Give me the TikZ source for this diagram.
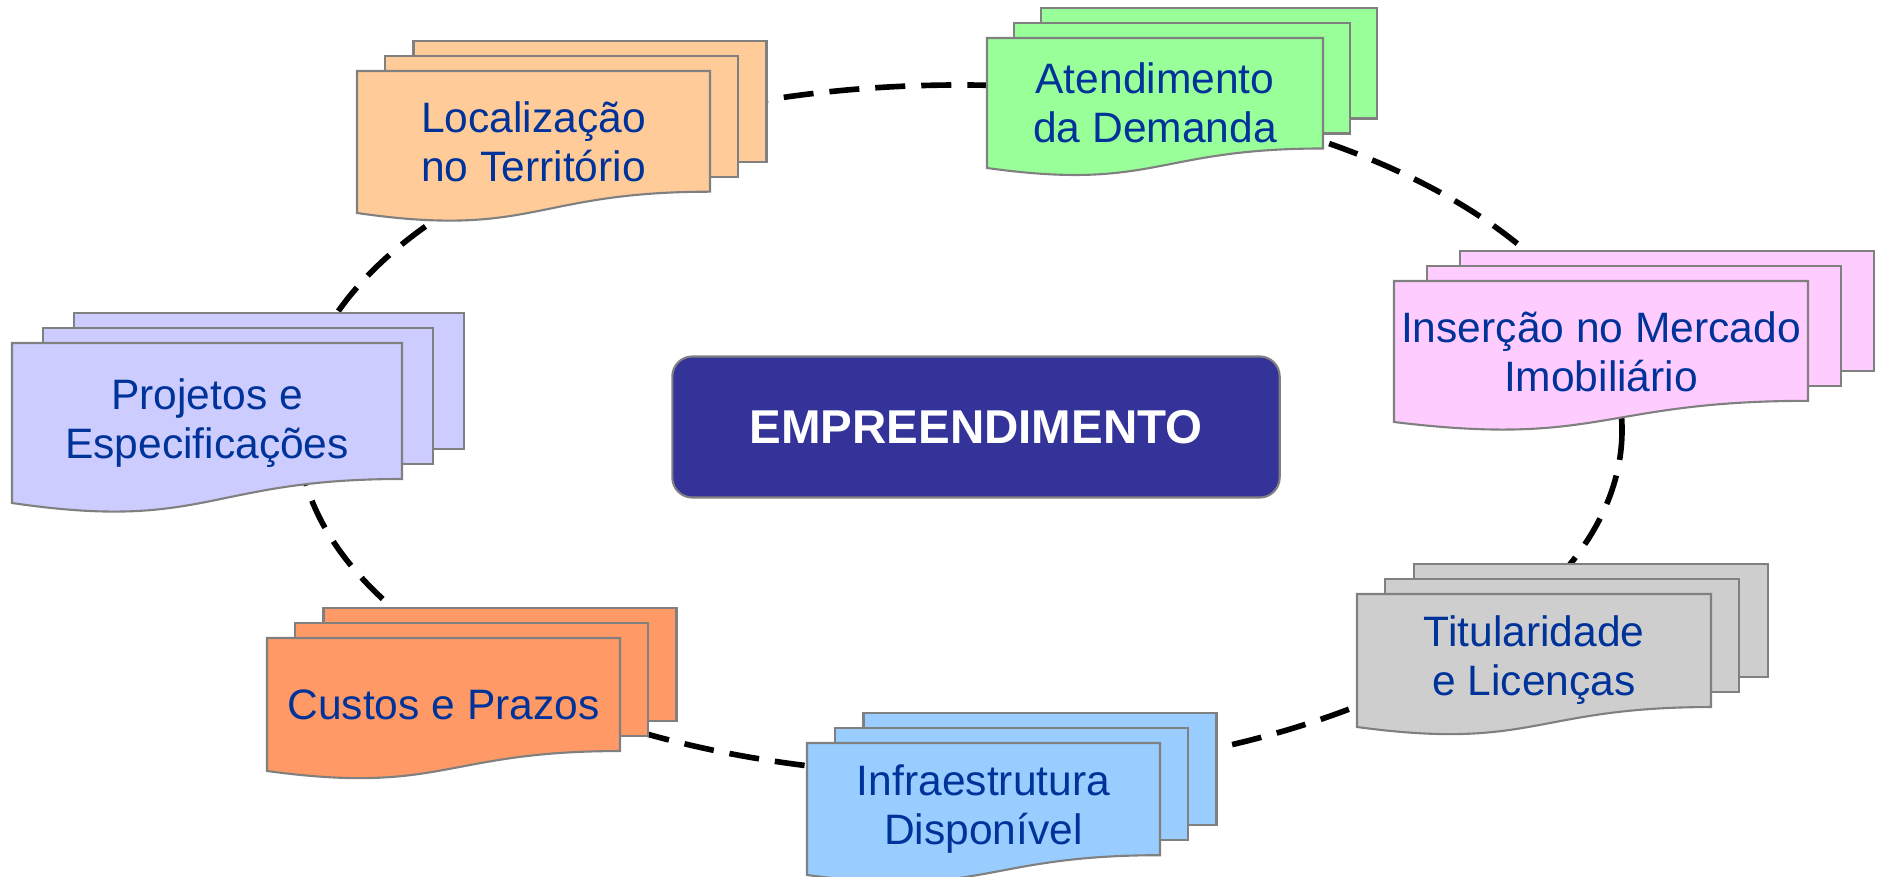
\documentclass[tikz,border=0pt]{standalone}
\usepackage{fontspec}
\setmainfont{Liberation Sans}

\definecolor{docblue}{RGB}{0,51,153}
\definecolor{boxblue}{RGB}{51,51,153}
\definecolor{c_loc}{RGB}{255,204,153}
\definecolor{c_atend}{RGB}{153,255,153}
\definecolor{c_ins}{RGB}{255,204,255}
\definecolor{c_tit}{RGB}{206,206,206}
\definecolor{c_infra}{RGB}{153,204,255}
\definecolor{c_custos}{RGB}{255,153,102}
\definecolor{c_proj}{RGB}{204,204,255}

% stack of three sheets: name, left, top, width, depth, colour, text
\newcommand{\docstack}[7]{%
  \pgfmathsetmacro\ox{0.08*#4}
  \pgfmathsetmacro\rh{0.85*#5}
  \draw[sheet, fill=#6] (#2+2*\ox,#3-30) rectangle ++(#4,\rh);
  \draw[sheet, fill=#6] (#2+\ox,#3-15) rectangle ++(#4,\rh);
  \draw[sheet, fill=#6] (#2,#3) -- ++(#4,0) -- ++(0,\rh)
    .. controls (#2+#4/2,#3+\rh) and (#2+#4/2,#3+1.18*#5) .. (#2,#3+#5) -- cycle;
  \node[doc_text] (#1) at (#2+#4/2,#3+#5/2) {#7};
}

\begin{document}
\begin{tikzpicture}[x=0.01cm, y=-0.01cm]
%define
\tikzstyle{sheet} = [draw=gray, line width=0.6pt, line join=miter]
\tikzstyle{doc_text} = [inner sep=0pt, align=center, text=docblue, font=\fontsize{12.1}{13.9}\selectfont]
\tikzstyle{state_center} = [rectangle, rounded corners=0.2cm, minimum width=6.07cm, minimum height=1.41cm, draw=gray, line width=0.6pt, fill=boxblue, text=white, font=\fontsize{13.5}{16}\selectfont\bfseries]
\tikzstyle{ring} = [line width=1.6pt, dash pattern=on 0.3cm off 0.16cm]

\useasboundingbox (0,0) rectangle (1879,877);

%ring
\draw[ring] (960,430) ellipse [x radius=662, y radius=345];

%center
\node[state_center] (state_Emp) at (976,427) {EMPREENDIMENTO};

%sheets
\docstack{doc_Loc}{357}{71}{353}{142}{c_loc}{Localização\\no Território}
\docstack{doc_Atend}{987}{38}{336}{130}{c_atend}{Atendimento\\da Demanda}
\docstack{doc_Ins}{1394}{281}{414}{141}{c_ins}{Inserção no Mercado\\Imobiliário}
\docstack{doc_Tit}{1357}{594}{354}{133}{c_tit}{Titularidade\\e Licenças}
\docstack{doc_Infra}{807}{743}{353}{132}{c_infra}{Infraestrutura\\Disponível}
\docstack{doc_Custos}{267}{638}{353}{133}{c_custos}{Custos e Prazos}
\docstack{doc_Proj}{12}{343}{390}{160}{c_proj}{Projetos e\\Especificações}

\end{tikzpicture}
\end{document}
